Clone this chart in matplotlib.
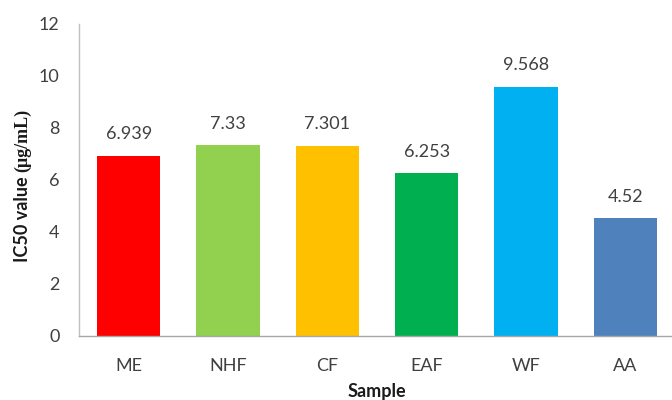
import numpy as np
from matplotlib import pyplot as plt

samples = ['ME', 'NHF', 'CF', 'EAF', 'WF', 'AA']
ic50 = [6.939, 7.33, 7.301, 6.253, 9.568, 4.52]
value_labels = ['6.939', '7.33', '7.301', '6.253', '9.568', '4.52']
bar_colors = ['#FF0000', '#92D050', '#FFC000', '#00B050', '#00B0F0', '#4F81BD']
yticks = [0, 2, 4, 6, 8, 10, 12]

plt.rcParams['font.family'] = ['Lato', 'DejaVu Sans']

fig = plt.figure(figsize=(6.72, 4.0), dpi=100)
ax = fig.add_axes([79/672, 64/400, 593/672, 312/400])

x = np.arange(len(samples))
bars = ax.bar(x, ic50, width=0.64, color=bar_colors)

# value labels sit above each bar
for b, txt in zip(bars, value_labels):
    ax.annotate(txt, (b.get_x() + b.get_width()/2, b.get_height()),
                xytext=(0, 10), textcoords='offset points',
                ha='center', va='bottom', fontsize=13, color='#404040')

ax.set_xlim(-0.5, 5.47)
ax.set_ylim(0, 12)
ax.set_yticks(yticks)
ax.set_xticks(x)
ax.set_xticklabels(samples)
ax.tick_params(axis='both', length=0, labelsize=13, colors='#404040')
ax.tick_params(axis='x', pad=16)
ax.tick_params(axis='y', pad=14)

for s in ['top', 'right']:
    ax.spines[s].set_visible(False)
ax.spines['left'].set_color('#BFBFBF')
ax.spines['bottom'].set_color('#A6A6A6')
ax.spines['left'].set_linewidth(1.0)
ax.spines['bottom'].set_linewidth(1.0)

# x axis title
fig.text(377/672, 1 - 392/400, 'Sample', ha='center', va='center',
         fontsize=13, fontweight='bold', color='#1a1a1a')

# y axis title: sans part then serif unit
t1 = fig.text(23/672, 1 - 262/400, 'IC50 value ', rotation=90,
              ha='center', va='bottom', fontsize=13, fontweight='bold',
              color='#1a1a1a')
fig.canvas.draw()
ax.annotate('(μg/mL)', xy=(0.5, 1.0), xycoords=t1, rotation=90,
            ha='center', va='bottom', fontsize=13, fontweight='bold',
            family='Liberation Serif', color='#1a1a1a', annotation_clip=False)

fig.savefig('out.png', dpi=100)
